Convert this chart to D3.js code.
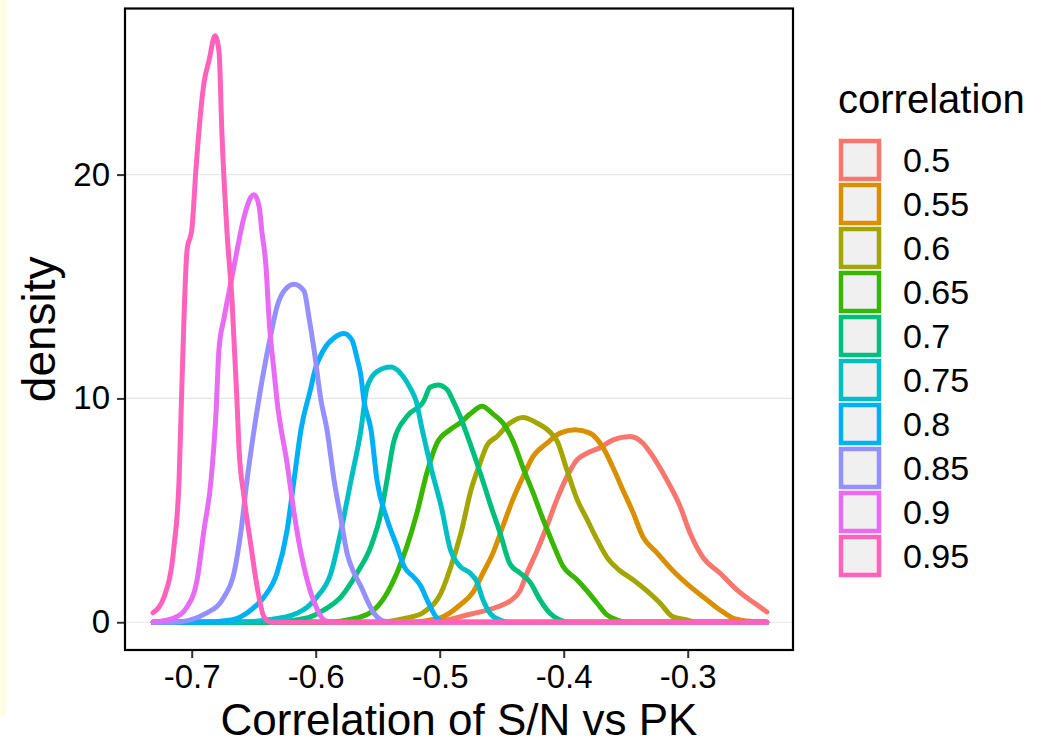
<!DOCTYPE html>
<html>
<head>
<meta charset="utf-8">
<script src="https://cdn.jsdelivr.net/npm/d3@7"></script>
<style>
  body { margin: 0; background: #fff; }
  svg text { font-family: "Liberation Sans", Arial, Helvetica, sans-serif; fill: #000; }
</style>
</head>
<body>
<div id="chart"></div>
<script>
// legend groups, drawn in this order (last on top)
var correlations = ['0.5', '0.55', '0.6', '0.65', '0.7', '0.75', '0.8', '0.85', '0.9', '0.95'];
var colors = ['#F8766D', '#D89000', '#A3A500', '#39B600', '#00BF7D', '#00BFC4', '#00B0F6', '#9590FF', '#E76BF3', '#FF62BC'];
var xTicks = [-0.7, -0.6, -0.5, -0.4, -0.3];
var yTicks = [0, 10, 20];

// density curves: [x, density]
var d050 = [[-0.731,0],[-0.5077,0],[-0.4747,0.37],[-0.4537,0.68],[-0.4433,0.95],[-0.4353,1.4],[-0.4296,2.2],[-0.4215,3.2],[-0.4135,4.3],[-0.4054,5.5],[-0.3974,6.5],[-0.3893,7.25],[-0.3812,7.55],[-0.3707,7.8],[-0.3602,8.15],[-0.3466,8.3],[-0.3361,8.0],[-0.328,7.4],[-0.3168,6.35],[-0.3063,5.2],[-0.2982,4.0],[-0.2877,2.9],[-0.274,2.2],[-0.2603,1.45],[-0.2474,0.9],[-0.2361,0.46]];
var d055 = [[-0.731,0],[-0.5264,0],[-0.4998,0.19],[-0.4836,0.77],[-0.4731,1.35],[-0.4651,2.2],[-0.457,3.1],[-0.449,4.3],[-0.4409,5.5],[-0.4328,6.5],[-0.4248,7.4],[-0.4135,8.0],[-0.403,8.45],[-0.3909,8.6],[-0.3788,8.45],[-0.3683,7.8],[-0.3602,6.9],[-0.3522,5.9],[-0.3441,4.9],[-0.336,3.8],[-0.3248,3.1],[-0.3119,2.3],[-0.2982,1.6],[-0.2845,1.0],[-0.274,0.55],[-0.2636,0.19],[-0.2523,0.06],[-0.2363,0]];
var d060 = [[-0.731,0],[-0.553,0],[-0.5264,0.19],[-0.5127,0.46],[-0.499,1.3],[-0.4909,2.5],[-0.4828,4.0],[-0.4748,5.9],[-0.4675,7.1],[-0.4619,7.9],[-0.4538,8.3],[-0.4433,8.9],[-0.4328,9.15],[-0.4216,8.9],[-0.4111,8.5],[-0.4054,8.1],[-0.3974,6.8],[-0.3893,5.5],[-0.3812,4.6],[-0.3732,3.7],[-0.3651,2.9],[-0.3546,2.3],[-0.3441,1.9],[-0.3329,1.4],[-0.3224,0.86],[-0.3119,0.24],[-0.3006,0.1],[-0.294,0],[-0.2363,0]];
var d065 = [[-0.731,0],[-0.5933,0],[-0.5667,0.19],[-0.553,0.55],[-0.5425,1.3],[-0.5345,2.2],[-0.5264,3.4],[-0.5183,4.9],[-0.5102,6.7],[-0.5022,8.0],[-0.4917,8.6],[-0.4837,8.9],[-0.4756,9.3],[-0.4659,9.65],[-0.457,9.3],[-0.449,8.9],[-0.4409,8.1],[-0.4328,6.9],[-0.4248,5.8],[-0.4167,4.6],[-0.4086,3.5],[-0.4006,2.5],[-0.3893,1.9],[-0.3812,1.4],[-0.3732,0.86],[-0.3651,0.33],[-0.357,0.1],[-0.349,0],[-0.2363,0]];
var d070 = [[-0.731,0],[-0.6392,0],[-0.607,0.19],[-0.5933,0.55],[-0.5796,1.13],[-0.5667,2.2],[-0.5554,3.4],[-0.5473,4.9],[-0.5425,6.35],[-0.5369,8.1],[-0.5264,9.2],[-0.5127,9.9],[-0.5078,10.5],[-0.5014,10.6],[-0.4941,10.4],[-0.4893,9.9],[-0.4836,9.2],[-0.4756,8.0],[-0.4675,6.7],[-0.4594,5.3],[-0.4514,4.0],[-0.4433,2.6],[-0.4353,2.2],[-0.4272,1.8],[-0.4191,1.0],[-0.4111,0.4],[-0.403,0.1],[-0.395,0],[-0.2363,0]];
var d075 = [[-0.731,0],[-0.6658,0],[-0.6393,0.1],[-0.6151,0.4],[-0.599,1.13],[-0.5877,2.2],[-0.5796,4.1],[-0.5715,6.35],[-0.5635,8.6],[-0.5586,10.5],[-0.5506,11.2],[-0.5393,11.4],[-0.5312,11.1],[-0.5232,10.4],[-0.5191,9.9],[-0.5145,8.7],[-0.5065,6.8],[-0.4985,5.1],[-0.4917,3.3],[-0.4837,2.5],[-0.4756,2.2],[-0.47,1.8],[-0.4651,1.0],[-0.4594,0.4],[-0.4514,0.1],[-0.443,0],[-0.2363,0]];
var d080 = [[-0.731,0],[-0.6925,0],[-0.6683,0.1],[-0.6522,0.55],[-0.6417,1.13],[-0.6312,2.2],[-0.6231,4.1],[-0.6175,6.35],[-0.6119,8.6],[-0.6038,10.5],[-0.6014,11.1],[-0.5933,12.2],[-0.5853,12.7],[-0.5772,12.9],[-0.5707,12.6],[-0.5667,11.8],[-0.5635,11.0],[-0.5611,9.9],[-0.5554,8.6],[-0.5506,6.35],[-0.5425,4.6],[-0.5345,3.4],[-0.5288,2.5],[-0.5207,2.0],[-0.5151,1.6],[-0.5102,1.0],[-0.503,0.24],[-0.4966,0],[-0.2363,0]];
var d085 = [[-0.731,0],[-0.7143,0],[-0.6877,0.42],[-0.6739,1.13],[-0.6659,2.2],[-0.6602,4.1],[-0.6554,6.35],[-0.6497,8.6],[-0.6433,10.8],[-0.636,12.9],[-0.6312,14.1],[-0.6256,14.8],[-0.6175,15.1],[-0.6094,14.8],[-0.6054,13.6],[-0.6014,12.2],[-0.5957,9.9],[-0.5909,8.6],[-0.5852,6.35],[-0.5796,4.6],[-0.5748,3.1],[-0.5691,2.2],[-0.5635,1.6],[-0.5587,1.0],[-0.553,0.4],[-0.5474,0.1],[-0.54,0],[-0.2363,0]];
var d090 = [[-0.731,0],[-0.7143,0.19],[-0.7038,0.68],[-0.6957,1.89],[-0.6901,4.12],[-0.6844,6.35],[-0.6804,9.34],[-0.678,12.2],[-0.6739,13.6],[-0.6683,15.2],[-0.6635,16.6],[-0.6578,18.1],[-0.6522,19.0],[-0.6497,19.1],[-0.6457,18.6],[-0.6433,17.4],[-0.6401,15.9],[-0.6377,13.6],[-0.6336,11.2],[-0.6312,9.9],[-0.6231,7.1],[-0.6175,4.9],[-0.6119,3.1],[-0.607,1.9],[-0.5998,0.7],[-0.5933,0.1],[-0.587,0],[-0.2363,0]];
var d095 = [[-0.7312,0.42],[-0.7223,1.13],[-0.7143,3.36],[-0.7102,6.35],[-0.7078,10.8],[-0.7038,16.6],[-0.6998,17.6],[-0.6965,20.3],[-0.6901,24.1],[-0.686,25.1],[-0.6812,26.2],[-0.678,25.5],[-0.6756,21.8],[-0.6715,17.4],[-0.6675,14.4],[-0.6635,9.9],[-0.6619,7.8],[-0.6578,5.6],[-0.6522,3.4],[-0.6473,1.6],[-0.6417,0.24],[-0.636,0],[-0.2363,0]];
var densities = [d050, d055, d060, d065, d070, d075, d080, d085, d090, d095];

var W = 1047, H = 744;
var svg = d3.select('#chart').append('svg').attr('width', W).attr('height', H);

// pale strip on the left edge of the picture
svg.append('rect').attr('x', 0).attr('y', 0).attr('width', 6).attr('height', 717).attr('fill', '#fffde4');

var panel = {left: 125, top: 8.5, right: 793, bottom: 650};
var x = d3.scaleLinear().domain([-0.7538, -0.2151]).range([panel.left, panel.right]);
var y = d3.scaleLinear().domain([-1.24, 27.42]).range([panel.bottom, panel.top]);

// grid
svg.append('g').selectAll('line').data(yTicks).enter().append('line')
  .attr('x1', panel.left).attr('x2', panel.right)
  .attr('y1', function(d){ return y(d); }).attr('y2', function(d){ return y(d); })
  .attr('stroke', '#e6e6e6').attr('stroke-width', 1.2);

svg.append('clipPath').attr('id', 'clip').append('rect')
  .attr('x', panel.left).attr('y', panel.top).attr('width', panel.right - panel.left).attr('height', panel.bottom - panel.top);

var line = d3.line().x(function(d){ return x(d[0]); }).y(function(d){ return y(d[1]); })
  .curve(d3.curveMonotoneX);
svg.append('g').attr('clip-path', 'url(#clip)').selectAll('path').data(densities).enter().append('path')
  .attr('d', line)
  .attr('fill', 'none')
  .attr('stroke', function(d, i){ return colors[i]; })
  .attr('stroke-width', 5)
  .attr('stroke-linecap', 'round')
  .attr('stroke-linejoin', 'round');

// axes
var xAxis = svg.append('g').attr('transform', 'translate(0,' + panel.bottom + ')')
  .call(d3.axisBottom(x).tickValues(xTicks).tickSize(8).tickPadding(7).tickFormat(d3.format('.1f')));
var yAxis = svg.append('g').attr('transform', 'translate(' + panel.left + ',0)')
  .call(d3.axisLeft(y).tickValues(yTicks).tickSize(8).tickPadding(7).tickFormat(d3.format('d')));
[xAxis, yAxis].forEach(function(a){
  a.select('.domain').remove();
  a.selectAll('.tick line').attr('stroke', '#333').attr('stroke-width', 2);
  a.selectAll('.tick text').attr('font-size', 33).attr('fill', '#000')
    .style('font-family', '"Liberation Sans", Arial, sans-serif');
});
xAxis.selectAll('.tick text').text(function(d){ return d3.format('.1f')(d).replace('−', '-'); });

// panel border
svg.append('rect').attr('x', panel.left).attr('y', panel.top)
  .attr('width', panel.right - panel.left).attr('height', panel.bottom - panel.top)
  .attr('fill', 'none').attr('stroke', '#000').attr('stroke-width', 2.2);

// titles
svg.append('text').attr('x', (panel.left + panel.right) / 2).attr('y', 735)
  .attr('text-anchor', 'middle').attr('font-size', 44).text('Correlation of S/N vs PK');
svg.append('text').attr('transform', 'translate(55,' + (panel.top + panel.bottom) / 2 + ') rotate(-90)')
  .attr('text-anchor', 'middle').attr('font-size', 46).text('density');

// legend
var legend = svg.append('g');
legend.append('text').attr('x', 838).attr('y', 113).attr('font-size', 40).text('correlation');
var keys = legend.selectAll('g.key').data(correlations).enter().append('g').attr('class', 'key')
  .attr('transform', function(d, i){ return 'translate(838,' + (138 + i * 44) + ')'; });
keys.append('rect').attr('x', 0).attr('y', 0).attr('width', 44).attr('height', 44).attr('fill', '#fff');
keys.append('rect').attr('x', 3).attr('y', 3).attr('width', 38).attr('height', 38)
  .attr('fill', '#f0f0f0').attr('stroke', function(d, i){ return colors[i]; }).attr('stroke-width', 4.5);
keys.append('text').attr('x', 65).attr('y', 22).attr('dy', '0.35em').attr('font-size', 34).text(function(d){ return d; });
</script>
</body>
</html>
